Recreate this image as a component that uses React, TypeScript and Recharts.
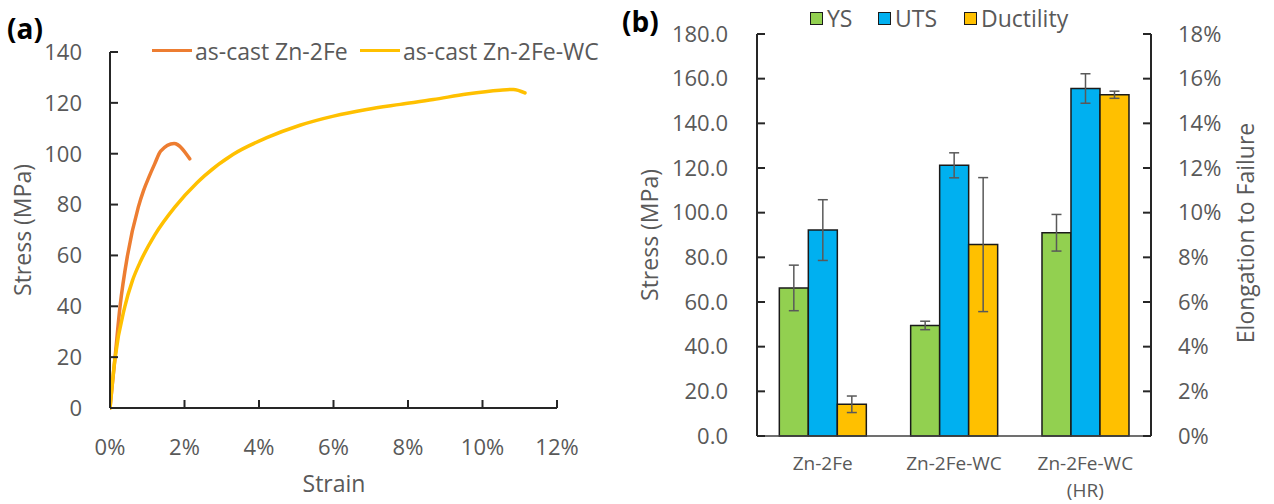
import React from 'react';
import { LineChart, Line, XAxis, YAxis, BarChart, Bar, ErrorBar } from 'recharts';

const FONT = '"Open Sans", "Noto Sans", sans-serif';
const TEXT = '#595959';
const AXIS = '#262626';

// ---------- Panel (a): stress-strain curves ----------
const strainTicks = [0, 2, 4, 6, 8, 10, 12];
const stressTicksA = [0, 20, 40, 60, 80, 100, 120, 140];

const zn2feStrain = [0, 0.06, 0.13, 0.27, 0.47, 0.76, 0.9, 1.05, 1.2, 1.36, 1.72, 2.14];
const zn2feStress = [0, 9, 19, 40, 60, 79, 85.5, 91, 96, 101, 104, 98];

const zn2feWcStrain = [0, 0.13, 0.4, 0.6, 0.83, 1.2, 1.74, 2.33, 2.55, 3.31, 4.21, 5.1, 6.0, 6.89, 7.79, 8.68, 9.58, 10.47, 10.83, 11.14];
const zn2feWcStress = [0, 19, 40, 50, 58, 68, 79, 88.5, 91.5, 99.8, 106.3, 111.2, 114.8, 117.4, 119.4, 121.3, 123.5, 125.0, 125.3, 123.9];

const lineSeries = [
  { name: 'as-cast Zn-2Fe', color: '#ED7D31', strain: zn2feStrain, stress: zn2feStress },
  { name: 'as-cast Zn-2Fe-WC', color: '#FFC000', strain: zn2feWcStrain, stress: zn2feWcStress },
];

// ---------- Panel (b): mechanical properties ----------
const categories = ['Zn-2Fe', 'Zn-2Fe-WC', 'Zn-2Fe-WC\n(HR)'];
const ysMean = [66.3, 49.5, 91.0];
const ysErr = [10.2, 1.9, 8.2];
const utsMean = [92.2, 121.2, 155.6];
const utsErr = [13.6, 5.6, 6.6];
const ductMean = [1.42, 8.57, 15.28];
const ductErr = [0.37, 3.0, 0.16];
const stressTicksB = [0, 20, 40, 60, 80, 100, 120, 140, 160, 180];
const elongTicks = [0, 2, 4, 6, 8, 10, 12, 14, 16, 18];

const barSeries = [
  { key: 'ys', err: 'ysErr', name: 'YS', color: '#92D050', axis: 'left' },
  { key: 'uts', err: 'utsErr', name: 'UTS', color: '#00B0F0', axis: 'left' },
  { key: 'duct', err: 'ductErr', name: 'Ductility', color: '#FFC000', axis: 'right' },
];

const barData = categories.map((c, i) => ({
  cat: c,
  ys: ysMean[i], ysErr: ysErr[i],
  uts: utsMean[i], utsErr: utsErr[i],
  duct: ductMean[i], ductErr: ductErr[i],
}));

const tickStyle = { fill: TEXT, fontSize: 22, fontFamily: FONT };

const CatTick = (props: any) => {
  const { x, y, payload } = props;
  const lines = String(payload.value).split('\n');
  return (
    <text x={x} y={y} textAnchor="middle" fill={TEXT} fontSize={19} fontFamily={FONT}>
      {lines.map((l, i) => (
        <tspan key={i} x={x} dy={i === 0 ? 24 : 27}>{l}</tspan>
      ))}
    </text>
  );
};

const abs = (left: number, top: number, extra: any = {}) => ({ position: 'absolute' as const, left, top, ...extra });

const RotTitle = ({ cx, cy, text }: { cx: number; cy: number; text: string }) => (
  <div style={abs(cx, cy, {
    transform: 'translate(-50%, -50%) rotate(-90deg)', whiteSpace: 'nowrap',
    fontSize: 23, color: TEXT, fontFamily: FONT, lineHeight: '30px',
  })}>{text}</div>
);

export default function App() {
  const lineLegendPos = [
    { lineX: 152, textX: 195 },
    { lineX: 360, textX: 403 },
  ];
  const barLegendPos = [810, 878, 964];
  return (
    <div style={{ position: 'absolute', left: 0, top: 0, width: 1274, height: 504, background: '#fff', fontFamily: FONT }}>
      {/* Panel (a) */}
      <div style={abs(0, 0)}>
        <LineChart width={620} height={504} margin={{ top: 52, right: 63, bottom: 36, left: 50 }}>
          <XAxis
            dataKey="x" type="number" domain={[0, 12]} ticks={strainTicks} allowDataOverflow
            tickFormatter={(v: number) => `${v}%`} height={60}
            tick={tickStyle} tickSize={-8} tickMargin={39}
            axisLine={{ stroke: AXIS, strokeWidth: 2 }} tickLine={{ stroke: AXIS, strokeWidth: 2 }}
          />
          <YAxis
            type="number" domain={[0, 140]} ticks={stressTicksA} width={60}
            tick={tickStyle} tickSize={-8} tickMargin={36}
            axisLine={{ stroke: AXIS, strokeWidth: 2 }} tickLine={{ stroke: AXIS, strokeWidth: 2 }}
          />
          {lineSeries.map((s) => (
            <Line
              key={s.name} name={s.name} type="monotone"
              data={s.strain.map((x, i) => ({ x, y: s.stress[i] }))}
              dataKey="y" stroke={s.color} strokeWidth={3.5} dot={false}
              strokeLinejoin="round" strokeLinecap="round"
              isAnimationActive={false}
            />
          ))}
        </LineChart>
      </div>
      {/* Panel (b) */}
      <div style={abs(620, 0)}>
        <BarChart width={654} height={504} data={barData} barCategoryGap="17%" barGap={0}
          margin={{ top: 34, right: 63, bottom: 18, left: 77 }}>
          <XAxis dataKey="cat" height={50} tick={<CatTick />} tickLine={false} tickSize={0} tickMargin={10}
            axisLine={{ stroke: '#404040', strokeWidth: 1.5 }} interval={0} />
          <YAxis yAxisId="left" orientation="left" domain={[0, 180]} ticks={stressTicksB} width={60}
            tickFormatter={(v: number) => v.toFixed(1)} tick={tickStyle} tickSize={-8} tickMargin={37}
            axisLine={{ stroke: AXIS, strokeWidth: 2 }} tickLine={{ stroke: AXIS, strokeWidth: 2 }} />
          <YAxis yAxisId="right" orientation="right" domain={[0, 18]} ticks={elongTicks} width={60}
            tickFormatter={(v: number) => `${v}%`} tick={tickStyle} tickSize={-8} tickMargin={35}
            axisLine={{ stroke: AXIS, strokeWidth: 2 }} tickLine={{ stroke: AXIS, strokeWidth: 2 }} />
          {barSeries.map((s) => (
            <Bar key={s.key} yAxisId={s.axis} dataKey={s.key} name={s.name} fill={s.color}
              stroke="#1a1a1a" strokeWidth={1.5} isAnimationActive={false}>
              <ErrorBar dataKey={s.err} width={5} stroke="#595959" strokeWidth={1.5} direction="y" />
            </Bar>
          ))}
        </BarChart>
      </div>

      {/* Panel labels */}
      <div style={abs(7, 13, { fontSize: 28, fontWeight: 700, color: '#000', lineHeight: '30px' })}>(a)</div>
      <div style={abs(622, 6, { fontSize: 28, fontWeight: 700, color: '#000', lineHeight: '30px' })}>(b)</div>

      {/* Axis titles */}
      <RotTitle cx={22} cy={230} text="Stress (MPa)" />
      <div style={abs(334, 483, { transform: 'translate(-50%, -50%)', fontSize: 23, color: TEXT, lineHeight: '30px', whiteSpace: 'nowrap' })}>Strain</div>
      <RotTitle cx={649} cy={235} text="Stress (MPa)" />
      <RotTitle cx={1245} cy={233} text="Elongation to Failure" />

      {/* Legend (a) */}
      {lineSeries.map((s, i) => (
        <React.Fragment key={s.name}>
          <div style={abs(lineLegendPos[i].lineX, 48.5, { width: 40, height: 3.5, background: s.color })} />
          <div style={abs(lineLegendPos[i].textX, 36, { fontSize: 23, color: TEXT, lineHeight: '30px', whiteSpace: 'nowrap' })}>{s.name}</div>
        </React.Fragment>
      ))}

      {/* Legend (b) */}
      {barSeries.map((s, i) => (
        <React.Fragment key={s.key}>
          <div style={abs(barLegendPos[i], 12, { width: 13, height: 13, background: s.color, border: '1.5px solid #1a1a1a', boxSizing: 'border-box' })} />
          <div style={abs(barLegendPos[i] + 17, 3, { fontSize: 23, color: TEXT, lineHeight: '30px', whiteSpace: 'nowrap' })}>{s.name}</div>
        </React.Fragment>
      ))}
    </div>
  );
}
